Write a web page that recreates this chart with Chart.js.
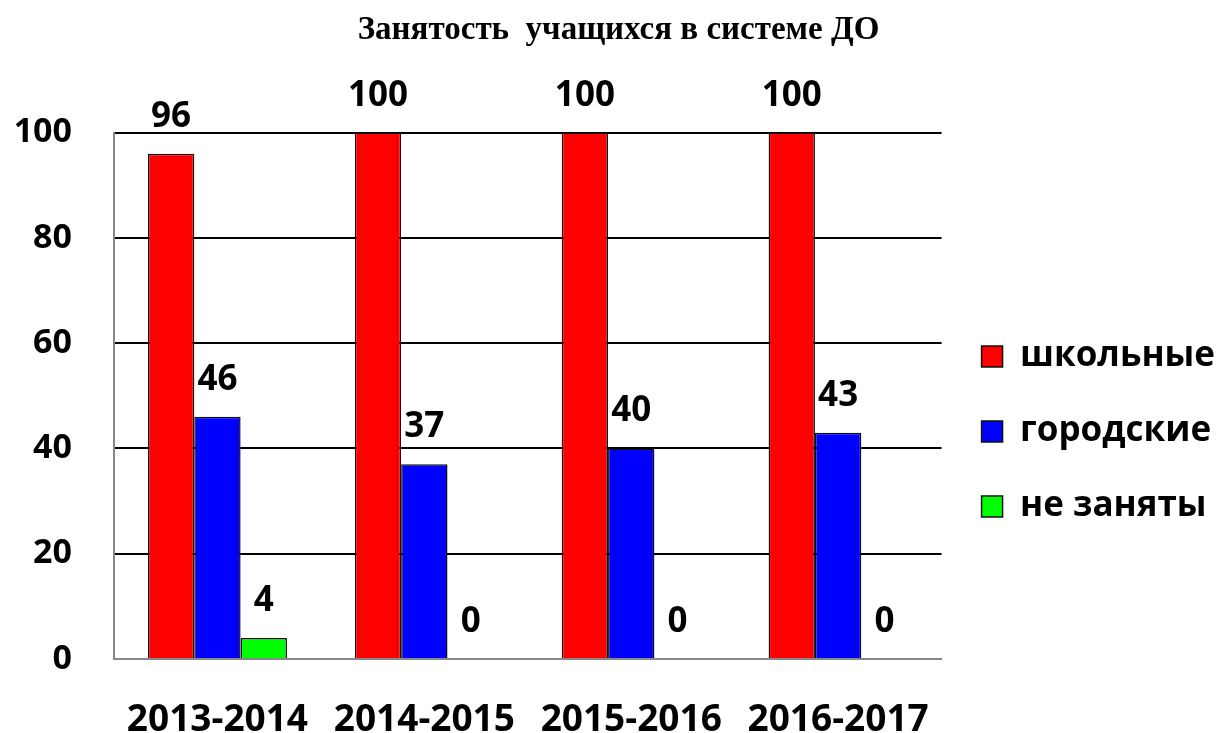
<!DOCTYPE html>
<html>
<head>
<meta charset="utf-8">
<script src="https://cdn.jsdelivr.net/npm/chart.js@4/dist/chart.umd.min.js"></script>
<style>
  html, body { margin: 0; padding: 0; background: #fff; }
  #wrap { width: 1225px; height: 733px; }
</style>
</head>
<body>
<div id="wrap"><canvas id="chart"></canvas></div>
<script>
// Данные диаграммы
const years      = ['2013-2014', '2014-2015', '2015-2016', '2016-2017'];
const schoolVals = [96, 100, 100, 100];
const cityVals   = [46, 37, 40, 43];
const noneVals   = [4, 0, 0, 0];
const yTicks     = [0, 20, 40, 60, 80, 100];

const boldFont = 'Open Sans';

// Подписи значений над столбцами
const valueLabels = {
  id: 'valueLabels',
  afterDatasetsDraw(chart) {
    const c = chart.ctx;
    c.save();
    c.font = `bold 35px "${boldFont}"`;
    c.fillStyle = '#000';
    c.textAlign = 'center';
    c.textBaseline = 'middle';
    chart.data.datasets.forEach((ds, i) => {
      chart.getDatasetMeta(i).data.forEach((bar, j) => {
        c.fillText(ds.data[j], bar.x, bar.y - 37);
      });
    });
    c.restore();
  }
};

new Chart(document.getElementById('chart'), {
  type: 'bar',
  data: {
    labels: years,
    datasets: [
      { label: 'школьные',  data: schoolVals, backgroundColor: '#ff0000', borderColor: '#111', borderWidth: 1.5 },
      { label: 'городские', data: cityVals,   backgroundColor: '#0000ff', borderColor: '#111', borderWidth: 1.5 },
      { label: 'не заняты', data: noneVals,   backgroundColor: '#00ff00', borderColor: '#111', borderWidth: 1.5 }
    ]
  },
  options: {
    responsive: true,
    maintainAspectRatio: false,
    animation: false,
    layout: { padding: { left: 12, right: 0, top: 0, bottom: 0 } },
    datasets: { bar: { barPercentage: 1, categoryPercentage: 0.672 } },
    scales: {
      x: {
        grid: { display: false },
        border: { display: true, color: '#888', width: 2 },
        ticks: { color: '#000', font: { family: boldFont, size: 37, weight: 'bold' }, padding: 31, maxRotation: 0 },
        afterFit: axis => { axis.height = 74; }
      },
      y: {
        min: 0, max: 100,
        afterBuildTicks: axis => { axis.ticks = yTicks.map(v => ({ value: v })); },
        grid: { color: ctx => ctx.tick && ctx.tick.value === 0 ? '#888' : '#000', lineWidth: 2, drawTicks: false },
        border: { display: true, color: '#888', width: 2 },
        ticks: { color: '#000', font: { family: boldFont, size: 34, weight: 'bold' }, padding: 42 },
        afterFit: axis => { axis.width = 102; }
      }
    },
    plugins: {
      title: {
        display: true,
        text: 'Занятость  учащихся в системе ДО',
        color: '#000',
        font: { family: 'Liberation Serif', size: 33, weight: 'bold' },
        padding: { top: 11, bottom: 82 }
      },
      legend: {
        position: 'right',
        align: 'center',
        title: { display: true, text: ' ', font: { size: 10 }, padding: 59 },
        labels: {
          color: '#000',
          boxWidth: 21, boxHeight: 21,
          padding: 40,
          font: { family: boldFont, size: 35, weight: 'bold' }
        }
      },
      tooltip: { enabled: false }
    }
  },
  plugins: [valueLabels]
});
</script>
</body>
</html>
